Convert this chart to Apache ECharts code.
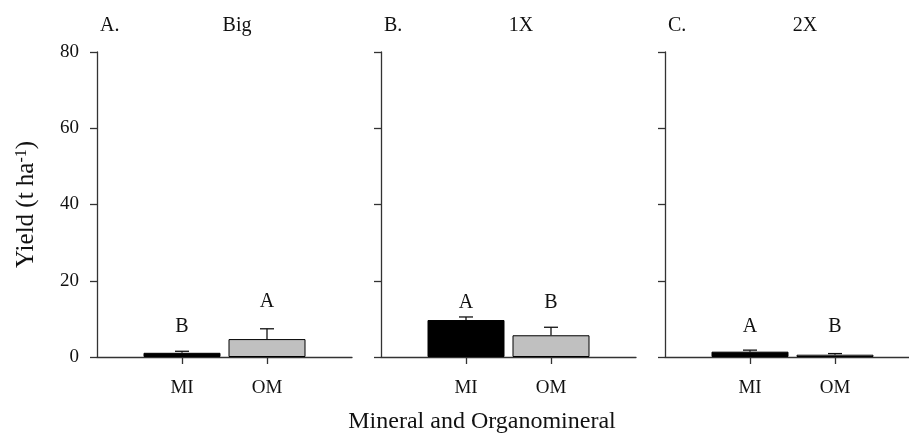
<!DOCTYPE html>
<html>
<head>
<meta charset="utf-8">
<script src="https://cdn.jsdelivr.net/npm/echarts@6/dist/echarts.min.js"></script>
<style>
html,body{margin:0;padding:0;background:#fff;}
#chart{width:909px;height:434px;}
</style>
</head>
<body>
<div id="chart"></div>
<script>
// ---- data ----
const categories = ['MI', 'OM'];
const panelLetters = ['A.', 'B.', 'C.'];
const panelNames = ['Big', '1X', '2X'];
const xTitle = 'Mineral and Organomineral';
const yTicks = [0, 20, 40, 60, 80];
// mean yield (t ha-1) per panel: [MI, OM]
const yieldBig = [1.1, 4.7];
const yield1X = [9.7, 5.7];
const yield2X = [1.4, 0.6];
// standard error (upper bar) per panel
const errBig = [0.4, 2.7];
const err1X = [0.8, 2.1];
const err2X = [0.4, 0.3];
// significance letters and their heights
const sigBig = ['B', 'A'];
const sig1X = ['A', 'B'];
const sig2X = ['A', 'B'];
const sigYBig = [7.9, 14.5];
const sigY1X = [14.2, 14.2];
const sigY2X = [7.9, 7.9];

const means = [yieldBig, yield1X, yield2X];
const errs = [errBig, err1X, err2X];
const sigs = [sigBig, sig1X, sig2X];
const sigYs = [sigYBig, sigY1X, sigY2X];

const FONT = 'Liberation Serif';
const AX = '#333';
const gridLefts = [97, 381, 665];
const gridW = 255;
const axisCats = [''].concat(categories).concat(['']);

const grids = [], xAxes = [], yAxes = [], series = [], graphics = [];
for (let p = 0; p < 3; p++) {
  grids.push({ left: gridLefts[p], top: 52, width: gridW, height: 305,
    containLabel: false, outerBoundsMode: 'none' });
  xAxes.push({
    type: 'category', gridIndex: p, data: axisCats, boundaryGap: false,
    axisLine: { lineStyle: { color: AX, width: 1.3 } },
    axisTick: { show: true, length: 7, lineStyle: { color: AX, width: 1.3 },
      interval: function (i) { return i === 1 || i === 2; } },
    axisLabel: { color: '#111', fontFamily: FONT, fontSize: 19, margin: 22,
      interval: 0 }
  });
  yAxes.push({
    type: 'value', gridIndex: p, min: 0, max: 80, interval: 20,
    splitLine: { show: false },
    axisLine: { show: true, lineStyle: { color: AX, width: 1.3 } },
    axisTick: { show: true, length: 7, lineStyle: { color: AX, width: 1.3 } },
    axisLabel: { show: p === 0, color: '#111', fontFamily: FONT, fontSize: 19, margin: 18 },
    name: p === 0 ? 'Yield (t ha{sup|-1})' : '',
    nameLocation: 'middle', nameRotate: 90, nameGap: 58,
    nameTextStyle: { color: '#111', fontFamily: FONT, fontSize: 25,
      rich: { sup: { fontFamily: FONT, fontSize: 16, verticalAlign: 'top', color: '#111' } } }
  });
  const barData = means[p].map(function (v, i) {
    return { value: [i + 1, v], itemStyle: { color: i === 0 ? '#000' : '#c0c0c0' } };
  });
  series.push({
    type: 'bar', xAxisIndex: p, yAxisIndex: p, barWidth: 77,
    itemStyle: { borderColor: '#000', borderWidth: 1 },
    data: barData, silent: true, animation: false
  });
  series.push({
    type: 'custom', xAxisIndex: p, yAxisIndex: p, silent: true, animation: false,
    data: means[p].map(function (v, i) { return [i + 1, v, errs[p][i]]; }),
    renderItem: function (params, api) {
      const x = api.value(0), m = api.value(1), e = api.value(2);
      const base = api.coord([x, m]);
      const top = api.coord([x, m + e]);
      const half = 7;
      return {
        type: 'group',
        children: [
          { type: 'line', shape: { x1: base[0], y1: base[1], x2: top[0], y2: top[1] },
            style: { stroke: '#111', lineWidth: 1.3 } },
          { type: 'line', shape: { x1: top[0] - half, y1: top[1], x2: top[0] + half, y2: top[1] },
            style: { stroke: '#111', lineWidth: 1.3 } }
        ]
      };
    }
  });
  series.push({
    type: 'custom', xAxisIndex: p, yAxisIndex: p, silent: true, animation: false,
    data: sigs[p].map(function (s, i) { return [i + 1, sigYs[p][i], s]; }),
    renderItem: function (params, api) {
      const pt = api.coord([api.value(0), api.value(1)]);
      return { type: 'text', x: pt[0], y: pt[1],
        style: { text: sigs[p][params.dataIndex], fill: '#111', font: '20px "' + FONT + '"',
          align: 'center', verticalAlign: 'middle' } };
    }
  });
  graphics.push({ type: 'text', x: gridLefts[p] + 3, y: 26, silent: true,
    style: { text: panelLetters[p], fill: '#111', font: '20px "' + FONT + '"',
      align: 'left', verticalAlign: 'middle' } });
  graphics.push({ type: 'text', x: gridLefts[p] + 140, y: 26, silent: true,
    style: { text: panelNames[p], fill: '#111', font: '20px "' + FONT + '"',
      align: 'center', verticalAlign: 'middle' } });
}
graphics.push({ type: 'text', x: 482, y: 422, silent: true,
  style: { text: xTitle, fill: '#111', font: '24px "' + FONT + '"',
    align: 'center', verticalAlign: 'middle' } });

const chart = echarts.init(document.getElementById('chart'), null, { renderer: 'canvas' });
chart.setOption({
  animation: false,
  backgroundColor: '#fff',
  grid: grids,
  xAxis: xAxes,
  yAxis: yAxes,
  series: series,
  graphic: graphics
});
</script>
</body>
</html>
